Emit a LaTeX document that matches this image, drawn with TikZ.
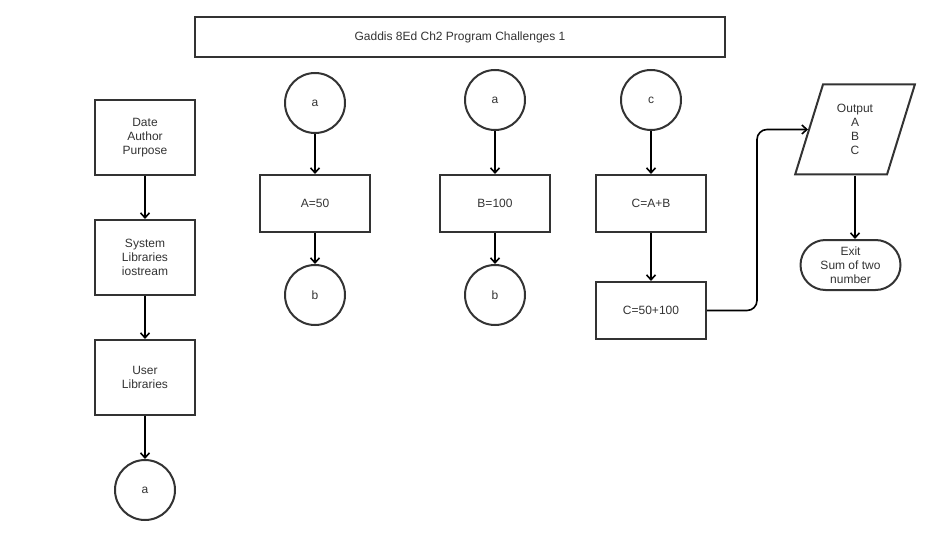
\documentclass[tikz,border=0pt]{standalone}
\usepackage{fontspec}
\setmainfont{Liberation Sans}
\usetikzlibrary{arrows.meta,shapes.geometric}

\begin{document}
\begin{tikzpicture}[x=1pt,y=-1pt,
  every node/.style={font=\fontsize{12}{14}\selectfont,text=black!80,align=center},
  titlebox/.style={draw=black!80,line width=2pt,minimum width=530pt,minimum height=40pt},
  box/.style={draw=black!80,line width=2pt,minimum width=100pt,minimum height=75pt},
  proc/.style={draw=black!80,line width=2pt,minimum width=110pt,minimum height=57pt},
  conn/.style={draw=black!80,line width=2pt,circle,minimum size=60pt},
  io/.style={draw=black!80,line width=2pt,trapezium,trapezium left angle=72,trapezium right angle=108,
    trapezium stretches=true,minimum width=120pt,minimum height=90pt},
  term/.style={draw=black!80,line width=2pt,rounded corners=25pt,minimum width=100pt,minimum height=50pt},
  flow/.style={-{Straight Barb[length=5pt,width=9pt]},line width=1.6pt}]
\useasboundingbox (0,0) rectangle (926,540);

\node[titlebox] (title) at (460,37) {Gaddis 8Ed Ch2 Program Challenges 1};

% left column
\node[box] (head) at (145,137.5) {Date\\Author\\Purpose};
\node[box] (syslib) at (145,257.5) {System\\Libraries\\iostream};
\node[box] (usrlib) at (145,377.5) {User\\Libraries};
\node[conn] (a1) at (145,490) {a};

\node[conn] (a2) at (315,103) {a};
\node[proc] (seta) at (315,203.5) {A=50};
\node[conn] (b1) at (315,295) {b};

\node[conn] (a3) at (495,100) {a};
\node[proc] (setb) at (495,203.5) {B=100};
\node[conn] (b2) at (495,295) {b};

\node[conn] (c1) at (651,100) {c};
\node[proc] (sumc) at (651,203.5) {C=A+B};
\node[proc] (valc) at (651,310.5) {C=50+100};

\node[io] (out) at (855,129.5) {Output\\A\\B\\C};
\node[term] (exit) at (850.5,265) {Exit\\Sum of two\\number};
\coordinate (bend) at (757,0);

\draw[flow] (head) -- (syslib);
\draw[flow] (syslib) -- (usrlib);
\draw[flow] (usrlib) -- (a1);
\draw[flow] (a2) -- (seta);
\draw[flow] (seta) -- (b1);
\draw[flow] (a3) -- (setb);
\draw[flow] (setb) -- (b2);
\draw[flow] (c1) -- (sumc);
\draw[flow] (sumc) -- (valc);
\draw[flow,rounded corners=10pt] (valc.east) -- (valc.east -| bend) -- (bend |- out.left side) -- (out.left side);
\draw[flow] (out.south) -- (out.south |- exit.north);
\end{tikzpicture}
\end{document}
